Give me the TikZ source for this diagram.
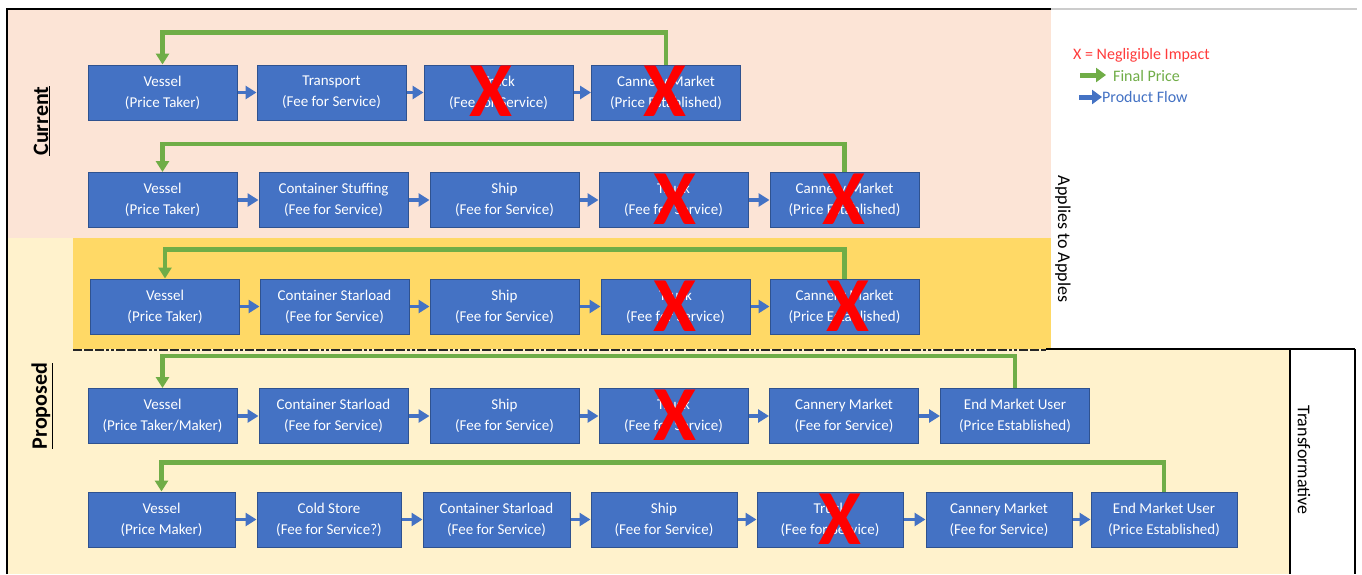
\documentclass[tikz,border=0pt]{standalone}
\usepackage{fontspec}
\setmainfont{Carlito}
\usetikzlibrary{arrows.meta}
\definecolor{boxblue}{HTML}{4472C4}
\definecolor{boxedge}{HTML}{2F528F}
\definecolor{pricegreen}{HTML}{70AD47}
\definecolor{pinkbg}{HTML}{FCE4D6}
\definecolor{lightyel}{HTML}{FFF2CC}
\definecolor{darkyel}{HTML}{FFD966}
\definecolor{xred}{HTML}{FF0000}
\definecolor{legred}{HTML}{FF3B3B}
\begin{document}
\begin{tikzpicture}[x=1pt,y=-1pt,
  stage/.style={draw=boxedge, line width=1pt, fill=boxblue, text=white,
    minimum height=55pt, minimum width=149pt, inner sep=0pt, align=center,
    font=\fontsize{15}{21}\selectfont},
  flow/.style={draw=boxblue, line width=3.5pt, -{Triangle[length=11pt,width=13pt]}},
  price/.style={draw=pricegreen, line width=4.5pt, -{Triangle[length=11pt,width=13pt]}},
  nx/.style={text=xred, font=\fontsize{78}{78}\selectfont\bfseries, inner sep=0pt},
  sidelabel/.style={inner sep=0pt, font=\fontsize{18}{18}\selectfont},
  grouplabel/.style={inner sep=0pt, font=\fontsize{22}{22}\selectfont\bfseries, rotate=90},
  legtext/.style={inner sep=0pt, anchor=west, font=\fontsize{16}{16}\selectfont}]
\useasboundingbox (0,0) rectangle (1362,574);
\fill[white] (0,0) rectangle (1362,574);
% backgrounds
\fill[pinkbg] (8,10) rectangle (1051,238);
\fill[lightyel] (8,238) rectangle (73,349);
\fill[lightyel] (8,349) rectangle (1290,574);
\fill[darkyel] (73,238) rectangle (1051,349);
% frame
\draw[black, line width=2.5pt] (7,574) -- (7,9) -- (1051,9);
\draw[black!20, line width=2pt] (1051,9) -- (1357,9);
\draw[black!85, line width=2pt, dash pattern=on 9pt off 2pt on 9pt off 2pt on 9pt off 2pt on 3pt off 2pt on 3pt off 2pt] (73,349.5) -- (1046,349.5);
\draw[black, line width=2pt] (1046,349) -- (1355,349);
\draw[black, line width=2pt] (1290,349) -- (1290,574);
\draw[black, line width=2pt] (1355,349) -- (1355,574);
% side labels
\node[grouplabel] (current) at (42,121) {\underline{Current}};
\node[grouplabel] (proposed) at (42,406) {\underline{Proposed}};
\node[sidelabel, rotate=-90] (apples) at (1063,239) {Applies to Apples};
\node[sidelabel, rotate=-90] (transf) at (1304,460) {Transformative};
% legend
\node[legtext, text=legred] (legx) at (1073,55) {X = Negligible Impact};
\node[legtext, text=pricegreen] (legprice) at (1113,76) {Final Price};
\node[legtext, text=boxblue] (legflow) at (1102,97) {Product Flow};
\coordinate (lg1) at (1080,75);
\coordinate (lg2) at (1106,75);
\coordinate (lb1) at (1079,97);
\coordinate (lb2) at (1102,97);
\draw[draw=pricegreen, line width=5pt, -{Triangle[length=10pt,width=14pt]}] (lg1) -- (lg2);
\draw[draw=boxblue, line width=5pt, -{Triangle[length=10pt,width=14pt]}] (lb1) -- (lb2);
% row 1
\node[stage] (r1a) at (162.5,92.5) {Vessel\\(Price Taker)};
\node[stage] (r1b) at (331.5,92.5) {Transport\\(Fee for Service)};
\node[stage] (r1c) at (498.5,92.5) {Truck\\(Fee for Service)};
\node[stage] (r1d) at (666,92.5) {Cannery Market\\(Price Established)};
\draw[flow] (r1a.east) -- (r1b.west);
\draw[flow] (r1b.east) -- (r1c.west);
\draw[flow] (r1c.east) -- (r1d.west);
\draw[price] (r1d.north) -- ++(0,-32) -| (r1a.north);
% row 2
\node[stage] (r2a) at (162.5,200) {Vessel\\(Price Taker)};
\node[stage] (r2b) at (333.5,200) {Container Stuffing\\(Fee for Service)};
\node[stage] (r2c) at (504.5,200) {Ship\\(Fee for Service)};
\node[stage] (r2d) at (673.5,200) {Truck\\(Fee for Service)};
\node[stage] (r2e) at (844.5,200) {Cannery Market\\(Price Established)};
\draw[flow] (r2a.east) -- (r2b.west);
\draw[flow] (r2b.east) -- (r2c.west);
\draw[flow] (r2c.east) -- (r2d.west);
\draw[flow] (r2d.east) -- (r2e.west);
\draw[price] (r2e.north) -- ++(0,-28) -| (r2a.north);
% row 3
\node[stage] (r3a) at (165,306.5) {Vessel\\(Price Taker)};
\node[stage] (r3b) at (334.5,306.5) {Container Starload\\(Fee for Service)};
\node[stage] (r3c) at (504.5,306.5) {Ship\\(Fee for Service)};
\node[stage] (r3d) at (675.5,306.5) {Truck\\(Fee for Service)};
\node[stage] (r3e) at (844.5,306.5) {Cannery Market\\(Price Established)};
\draw[flow] (r3a.east) -- (r3b.west);
\draw[flow] (r3b.east) -- (r3c.west);
\draw[flow] (r3c.east) -- (r3d.west);
\draw[flow] (r3d.east) -- (r3e.west);
\draw[price] (r3e.north) -- ++(0,-29) -| (r3a.north);
% row 4
\node[stage] (r4a) at (162.5,416) {Vessel\\(Price Taker/Maker)};
\node[stage] (r4b) at (333.5,416) {Container Starload\\(Fee for Service)};
\node[stage] (r4c) at (504.5,416) {Ship\\(Fee for Service)};
\node[stage] (r4d) at (673.5,416) {Truck\\(Fee for Service)};
\node[stage] (r4e) at (844,416) {Cannery Market\\(Fee for Service)};
\node[stage] (r4f) at (1015,416) {End Market User\\(Price Established)};
\draw[flow] (r4a.east) -- (r4b.west);
\draw[flow] (r4b.east) -- (r4c.west);
\draw[flow] (r4c.east) -- (r4d.west);
\draw[flow] (r4d.east) -- (r4e.west);
\draw[flow] (r4e.east) -- (r4f.west);
\draw[price] (r4f.north) -- ++(0,-32) -| (r4a.north);
% row 5
\node[stage, minimum width=147pt] (r5a) at (161.5,519.5) {Vessel\\(Price Maker)};
\node[stage, minimum width=144pt] (r5b) at (329,519.5) {Cold Store\\(Fee for Service?)};
\node[stage, minimum width=147pt] (r5c) at (496.5,519.5) {Container Starload\\(Fee for Service)};
\node[stage, minimum width=146pt] (r5d) at (664,519.5) {Ship\\(Fee for Service)};
\node[stage, minimum width=146pt] (r5e) at (830,519.5) {Truck\\(Fee for Service)};
\node[stage, minimum width=146pt] (r5f) at (999,519.5) {Cannery Market\\(Fee for Service)};
\node[stage, minimum width=146pt] (r5g) at (1164,519.5) {End Market User\\(Price Established)};
\draw[flow] (r5a.east) -- (r5b.west);
\draw[flow] (r5b.east) -- (r5c.west);
\draw[flow] (r5c.east) -- (r5d.west);
\draw[flow] (r5d.east) -- (r5e.west);
\draw[flow] (r5e.east) -- (r5f.west);
\draw[flow] (r5f.east) -- (r5g.west);
\draw[price] (r5g.north) -- ++(0,-29) -| (r5a.north);
% negligible-impact marks
\node[nx] (x1) at (491,91) {X};
\node[nx] (x2) at (665,91) {X};
\node[nx] (x3) at (675,199) {X};
\node[nx] (x4) at (844,199) {X};
\node[nx] (x5) at (675,306) {X};
\node[nx] (x6) at (848,306) {X};
\node[nx] (x7) at (675,415) {X};
\node[nx] (x8) at (840,519) {X};
\end{tikzpicture}
\end{document}
